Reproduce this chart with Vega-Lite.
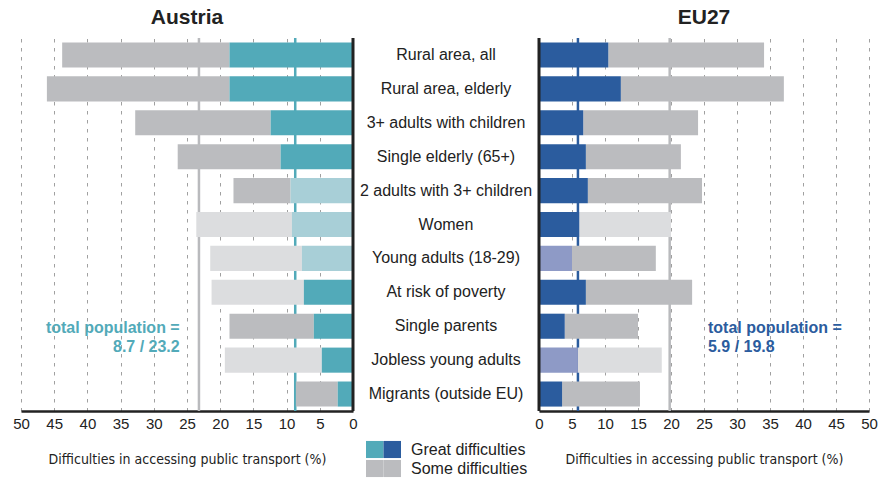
{
  "$schema": "https://vega.github.io/schema/vega-lite/v6.json",
  "padding": {"left": 12, "right": 5, "top": 6, "bottom": 2},
  "background": "white",
  "spacing": 0,
  "datasets": {
    "rows": [
      {"country": "Austria", "cat": "Rural area, all", "great": 18.6, "total": 43.8, "greatGroup": "Austria great", "someGroup": "some"},
      {"country": "Austria", "cat": "Rural area, elderly", "great": 18.6, "total": 46.1, "greatGroup": "Austria great", "someGroup": "some"},
      {"country": "Austria", "cat": "3+ adults with children", "great": 12.4, "total": 32.8, "greatGroup": "Austria great", "someGroup": "some"},
      {"country": "Austria", "cat": "Single elderly (65+)", "great": 10.9, "total": 26.4, "greatGroup": "Austria great", "someGroup": "some"},
      {"country": "Austria", "cat": "2 adults with 3+ children", "great": 9.4, "total": 18.0, "greatGroup": "Austria great (low reliability)", "someGroup": "some"},
      {"country": "Austria", "cat": "Women", "great": 9.2, "total": 23.6, "greatGroup": "Austria great (low reliability)", "someGroup": "some (low reliability)"},
      {"country": "Austria", "cat": "Young adults (18-29)", "great": 7.7, "total": 21.5, "greatGroup": "Austria great (low reliability)", "someGroup": "some (low reliability)"},
      {"country": "Austria", "cat": "At risk of poverty", "great": 7.4, "total": 21.3, "greatGroup": "Austria great", "someGroup": "some (low reliability)"},
      {"country": "Austria", "cat": "Single parents", "great": 5.9, "total": 18.6, "greatGroup": "Austria great", "someGroup": "some"},
      {"country": "Austria", "cat": "Jobless young adults", "great": 4.7, "total": 19.3, "greatGroup": "Austria great", "someGroup": "some (low reliability)"},
      {"country": "Austria", "cat": "Migrants (outside EU)", "great": 2.3, "total": 8.6, "greatGroup": "Austria great", "someGroup": "some"},
      {"country": "EU27", "cat": "Rural area, all", "great": 10.5, "total": 34.1, "greatGroup": "EU27 great", "someGroup": "some"},
      {"country": "EU27", "cat": "Rural area, elderly", "great": 12.4, "total": 37.1, "greatGroup": "EU27 great", "someGroup": "some"},
      {"country": "EU27", "cat": "3+ adults with children", "great": 6.7, "total": 24.1, "greatGroup": "EU27 great", "someGroup": "some"},
      {"country": "EU27", "cat": "Single elderly (65+)", "great": 7.1, "total": 21.5, "greatGroup": "EU27 great", "someGroup": "some"},
      {"country": "EU27", "cat": "2 adults with 3+ children", "great": 7.4, "total": 24.7, "greatGroup": "EU27 great", "someGroup": "some"},
      {"country": "EU27", "cat": "Women", "great": 6.1, "total": 20.0, "greatGroup": "EU27 great", "someGroup": "some (low reliability)"},
      {"country": "EU27", "cat": "Young adults (18-29)", "great": 5.0, "total": 17.7, "greatGroup": "EU27 great (low reliability)", "someGroup": "some"},
      {"country": "EU27", "cat": "At risk of poverty", "great": 7.1, "total": 23.2, "greatGroup": "EU27 great", "someGroup": "some"},
      {"country": "EU27", "cat": "Single parents", "great": 3.9, "total": 15.0, "greatGroup": "EU27 great", "someGroup": "some"},
      {"country": "EU27", "cat": "Jobless young adults", "great": 5.9, "total": 18.6, "greatGroup": "EU27 great (low reliability)", "someGroup": "some (low reliability)"},
      {"country": "EU27", "cat": "Migrants (outside EU)", "great": 3.5, "total": 15.3, "greatGroup": "EU27 great", "someGroup": "some"}
    ],
    "refs": [
      {"country": "Austria", "kind": "great", "value": 8.7},
      {"country": "Austria", "kind": "total", "value": 23.2},
      {"country": "EU27", "kind": "great", "value": 5.9},
      {"country": "EU27", "kind": "total", "value": 19.8}
    ],
    "legend": [
      {"item": "Great difficulties", "swatch": "Austria", "group": "Austria great"},
      {"item": "Great difficulties", "swatch": "EU27", "group": "EU27 great"},
      {"item": "Some difficulties", "swatch": "Austria", "group": "some"},
      {"item": "Some difficulties", "swatch": "EU27", "group": "some"}
    ]
  },
  "config": {
    "view": {"stroke": null},
    "font": "Liberation Sans",
    "title": {"font": "Liberation Sans", "fontSize": 21, "fontWeight": "bold", "color": "#222222", "offset": 9, "anchor": "middle"},
    "axisX": {
      "grid": true, "gridDash": [3.5, 5.5], "gridColor": "#a0a0a0", "gridWidth": 1,
      "ticks": false, "domainColor": "#222222", "domainWidth": 2.5,
      "values": [0, 5, 10, 15, 20, 25, 30, 35, 40, 45, 50],
      "labelFont": "Liberation Sans", "labelFontSize": 15, "labelColor": "#222222", "labelPadding": 5, "labelOverlap": false, "labelFlush": false,
      "titleFont": "DejaVu Sans Condensed", "titleFontSize": 14, "titleFontWeight": "normal", "titleColor": "#222222", "titlePadding": 21
    }
  },
  "resolve": {"scale": {"x": "independent", "y": "independent", "color": "independent"}},
  "hconcat": [
    {
      "width": 332,
      "height": 373,
      "title": "Austria",
      "layer": [
        {
          "data": {"name": "refs"},
          "transform": [{"filter": "datum.country === 'Austria' && datum.kind === 'total'"}],
          "mark": {"type": "rule", "color": "#b9babd", "strokeWidth": 2.5},
          "encoding": {
            "x": {"field": "value", "type": "quantitative", "title": "Difficulties in accessing public transport (%)", "scale": {"domain": [0, 50], "reverse": true, "nice": false}}
          }
        },
        {
          "data": {"name": "refs"},
          "transform": [{"filter": "datum.country === 'Austria' && datum.kind === 'great'"}],
          "mark": {"type": "rule", "color": "#52AAB9", "strokeWidth": 2.5},
          "encoding": {
            "x": {"field": "value", "type": "quantitative", "title": "Difficulties in accessing public transport (%)"}
          }
        },
        {
          "data": {"name": "rows"},
          "transform": [{"filter": "datum.country === 'Austria'"}],
          "mark": {"type": "bar"},
          "encoding": {
            "y": {"field": "cat", "type": "nominal", "axis": null, "sort": ["Rural area, all", "Rural area, elderly", "3+ adults with children", "Single elderly (65+)", "2 adults with 3+ children", "Women", "Young adults (18-29)", "At risk of poverty", "Single parents", "Jobless young adults", "Migrants (outside EU)"], "scale": {"paddingInner": 0.26, "paddingOuter": 0.13}},
            "x": {"field": "great", "type": "quantitative", "title": "Difficulties in accessing public transport (%)"},
            "x2": {"field": "total"},
            "color": {"field": "someGroup", "type": "nominal", "legend": null, "scale": {"domain": ["Austria great", "Austria great (low reliability)", "EU27 great", "EU27 great (low reliability)", "some", "some (low reliability)"], "range": ["#52AAB9", "#A8CFD7", "#2B5C9E", "#8E9AC6", "#BBBCBF", "#DCDDDF"]}}
          }
        },
        {
          "data": {"name": "rows"},
          "transform": [{"filter": "datum.country === 'Austria'"}],
          "mark": {"type": "bar"},
          "encoding": {
            "y": {"field": "cat", "type": "nominal", "axis": null, "sort": ["Rural area, all", "Rural area, elderly", "3+ adults with children", "Single elderly (65+)", "2 adults with 3+ children", "Women", "Young adults (18-29)", "At risk of poverty", "Single parents", "Jobless young adults", "Migrants (outside EU)"]},
            "x": {"field": "great", "type": "quantitative", "title": "Difficulties in accessing public transport (%)"},
            "x2": {"datum": 0},
            "color": {"field": "greatGroup", "type": "nominal", "legend": null}
          }
        },
        {
          "data": {"values": [{"line": "zero"}]},
          "mark": {"type": "rule", "color": "#222222", "strokeWidth": 3},
          "encoding": {"x": {"datum": 0, "type": "quantitative"}}
        },
        {
          "data": {"values": [{"note": "total population"}]},
          "mark": {"type": "text", "align": "right", "baseline": "middle", "font": "Liberation Sans", "fontSize": 16, "fontWeight": "bold", "color": "#52AAB9", "lineHeight": 19, "dy": 2},
          "encoding": {
            "x": {"datum": 26.1, "type": "quantitative"},
            "y": {"datum": "Single parents", "type": "nominal", "bandPosition": 0.5},
            "text": {"value": ["total population =", "8.7 / 23.2"]}
          }
        }
      ]
    },
    {
      "spacing": 29,
      "resolve": {"scale": {"x": "independent", "y": "independent", "color": "independent"}},
      "vconcat": [
        {
          "width": 176,
          "height": 373,
          "title": " ",
          "data": {"name": "rows"},
          "transform": [{"filter": "datum.country === 'Austria'"}],
          "mark": {"type": "text", "font": "Liberation Sans", "fontSize": 16, "color": "#222222", "baseline": "middle"},
          "encoding": {
            "y": {"field": "cat", "type": "nominal", "axis": null, "sort": ["Rural area, all", "Rural area, elderly", "3+ adults with children", "Single elderly (65+)", "2 adults with 3+ children", "Women", "Young adults (18-29)", "At risk of poverty", "Single parents", "Jobless young adults", "Migrants (outside EU)"], "scale": {"paddingInner": 0.26, "paddingOuter": 0.13}},
            "text": {"field": "cat"}
          }
        },
        {
          "width": 176,
          "height": 38,
          "data": {"name": "legend"},
          "layer": [
            {
              "mark": {"type": "bar"},
              "encoding": {
                "y": {"field": "item", "type": "nominal", "axis": null, "scale": {"paddingInner": 0.1, "paddingOuter": 0.05}},
                "x": {"field": "swatch", "type": "nominal", "axis": null, "scale": {"range": [8, 43], "paddingInner": 0, "paddingOuter": 0}},
                "color": {"field": "group", "type": "nominal", "legend": null, "scale": {"domain": ["Austria great", "EU27 great", "some"], "range": ["#52AAB9", "#2B5C9E", "#BBBCBF"]}}
              }
            },
            {
              "transform": [{"filter": "datum.swatch === 'EU27'"}],
              "mark": {"type": "text", "align": "left", "baseline": "middle", "font": "Liberation Sans", "fontSize": 16, "color": "#222222", "dx": 10},
              "encoding": {
                "y": {"field": "item", "type": "nominal", "axis": null},
                "x": {"field": "swatch", "type": "nominal", "axis": null, "bandPosition": 1},
                "text": {"field": "item"}
              }
            }
          ]
        }
      ]
    },
    {
      "width": 330,
      "height": 373,
      "title": "EU27",
      "layer": [
        {
          "data": {"name": "refs"},
          "transform": [{"filter": "datum.country === 'EU27' && datum.kind === 'total'"}],
          "mark": {"type": "rule", "color": "#b9babd", "strokeWidth": 2.5},
          "encoding": {
            "x": {"field": "value", "type": "quantitative", "title": "Difficulties in accessing public transport (%)", "scale": {"domain": [0, 50], "nice": false}}
          }
        },
        {
          "data": {"name": "refs"},
          "transform": [{"filter": "datum.country === 'EU27' && datum.kind === 'great'"}],
          "mark": {"type": "rule", "color": "#2B5C9E", "strokeWidth": 2.5},
          "encoding": {
            "x": {"field": "value", "type": "quantitative", "title": "Difficulties in accessing public transport (%)"}
          }
        },
        {
          "data": {"name": "rows"},
          "transform": [{"filter": "datum.country === 'EU27'"}],
          "mark": {"type": "bar"},
          "encoding": {
            "y": {"field": "cat", "type": "nominal", "axis": null, "sort": ["Rural area, all", "Rural area, elderly", "3+ adults with children", "Single elderly (65+)", "2 adults with 3+ children", "Women", "Young adults (18-29)", "At risk of poverty", "Single parents", "Jobless young adults", "Migrants (outside EU)"], "scale": {"paddingInner": 0.26, "paddingOuter": 0.13}},
            "x": {"field": "great", "type": "quantitative", "title": "Difficulties in accessing public transport (%)"},
            "x2": {"field": "total"},
            "color": {"field": "someGroup", "type": "nominal", "legend": null, "scale": {"domain": ["Austria great", "Austria great (low reliability)", "EU27 great", "EU27 great (low reliability)", "some", "some (low reliability)"], "range": ["#52AAB9", "#A8CFD7", "#2B5C9E", "#8E9AC6", "#BBBCBF", "#DCDDDF"]}}
          }
        },
        {
          "data": {"name": "rows"},
          "transform": [{"filter": "datum.country === 'EU27'"}],
          "mark": {"type": "bar"},
          "encoding": {
            "y": {"field": "cat", "type": "nominal", "axis": null, "sort": ["Rural area, all", "Rural area, elderly", "3+ adults with children", "Single elderly (65+)", "2 adults with 3+ children", "Women", "Young adults (18-29)", "At risk of poverty", "Single parents", "Jobless young adults", "Migrants (outside EU)"]},
            "x": {"field": "great", "type": "quantitative", "title": "Difficulties in accessing public transport (%)"},
            "x2": {"datum": 0},
            "color": {"field": "greatGroup", "type": "nominal", "legend": null}
          }
        },
        {
          "data": {"values": [{"line": "zero"}]},
          "mark": {"type": "rule", "color": "#222222", "strokeWidth": 3},
          "encoding": {"x": {"datum": 0, "type": "quantitative"}}
        },
        {
          "data": {"values": [{"note": "total population"}]},
          "mark": {"type": "text", "align": "left", "baseline": "middle", "font": "Liberation Sans", "fontSize": 16, "fontWeight": "bold", "color": "#2B5C9E", "lineHeight": 19, "dy": 2},
          "encoding": {
            "x": {"datum": 25.6, "type": "quantitative"},
            "y": {"datum": "Single parents", "type": "nominal", "bandPosition": 0.5},
            "text": {"value": ["total population =", "5.9 / 19.8"]}
          }
        }
      ]
    }
  ]
}
